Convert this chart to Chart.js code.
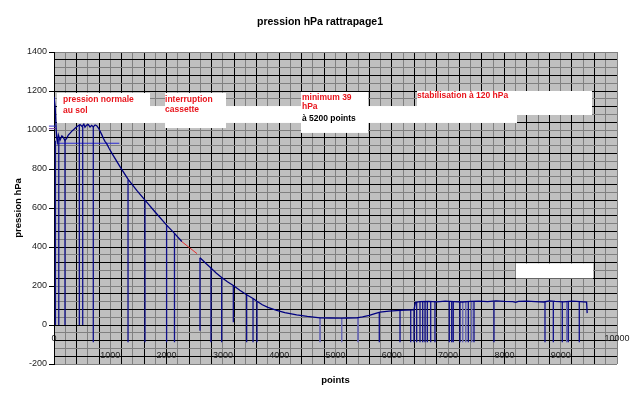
<!DOCTYPE html>
<html>
<head>
<meta charset="utf-8">
<script src="https://cdn.jsdelivr.net/npm/chart.js@4.4.1/dist/chart.umd.min.js"></script>
<style>
  html, body { margin: 0; padding: 0; background: #fff; }
  #wrap { width: 640px; height: 398px; }
</style>
</head>
<body>
<div id="wrap"><canvas id="chart" width="640" height="398"></canvas></div>
<script>
// pressure curve (points / hPa)
const descentX = [0, 20, 45, 60, 77, 107, 140, 166, 195, 230, 254, 290, 314, 360, 403, 430, 462, 500, 530, 550, 580, 610, 640, 670, 698, 730, 758, 790, 817, 850, 876, 905, 935, 980, 1040, 1180, 1320, 1470, 1616, 1800, 2000, 2140, 2270];
const descentY = [1170, 1120, 965, 940, 975, 948, 970, 962, 946, 960, 974, 985, 993, 1005, 1017, 1022, 1028, 1018, 1030, 1014, 1025, 1028, 1015, 1024, 1016, 1026, 1022, 1010, 995, 975, 958, 942, 930, 905, 875, 808, 745, 690, 640, 578, 512, 470, 428];

const recoveryX = [2593, 2700, 2788, 2880, 2978, 3080, 3185, 3300, 3422, 3535, 3605, 3700, 3800, 3955, 4100, 4310, 4500, 4725, 4900, 5100, 5200, 5375, 5480, 5600, 5700, 5790, 5950, 6145, 6250, 6394, 6420, 6500, 6650, 6800, 6950, 7100, 7250, 7400, 7550, 7700, 7850, 8000, 8150, 8200, 8250, 8400, 8550, 8700, 8800, 8900, 9050, 9200, 9350, 9460, 9470];
const recoveryY = [345, 315, 292, 267, 244, 222, 203, 178, 155, 136, 122, 104, 90, 75, 64, 52, 44, 37, 36, 35, 36, 37, 42, 49, 58, 66, 71, 75, 76, 78, 116, 120, 121, 119, 122, 120, 118, 121, 122, 120, 124, 121, 120, 116, 121, 122, 120, 118, 124, 121, 119, 122, 120, 117, 61];

// red piece across the cassette interruption
const trendX = [2250, 2540];
const trendY = [432, 366];

// dropouts: vertical strokes from the curve down
const spikeX =   [25, 85, 195, 450, 510, 698, 1315, 1616, 2000, 2140, 2593, 2788, 2978, 3185, 3422, 3535, 3605, 5778, 6146, 6336, 6394, 6442, 6501, 6549, 6590, 6631, 6691, 6767, 7021, 7064, 7092, 7211, 7359, 7460, 7815, 8721, 8869, 9028, 9135, 9330];
const spikeTop = [945, 955, 946, 1026, 1018, 1016, 745, 640, 512, 470, 345, 292, 244, 203, 155, 136, 122, 66, 75, 77, 78, 118, 120, 120, 120, 120, 120, 120, 120, 120, 120, 120, 120, 120, 121, 118, 121, 119, 121, 120];
const spikeLow = [0, 0, 0, 0, 0, -88, -88, -88, -88, -88, -30, -88, -88, 14, -88, -88, -88, -88, -88, -88, -88, -88, -88, -88, -88, -88, -88, -88, -88, -88, -88, -88, -88, -88, -88, -88, -88, -88, -88, -88];

const faintX =   [4725, 5110, 5400, 7259, 7313, 7419, 9107];
const faintTop = [37, 35, 38, 118, 121, 121, 121];
const faintLow = [-88, -88, -88, -88, -88, -88, -88];

// stray horizontal strokes near the ground level
const levelX = [48, 1160];
const levelY = [932, 932];
const markX = [-90, 40];
const markY = [1020, 1007];

// axes
const yMin = -200, yMax = 1400, yStep = 40;
const xMin = 0, xMax = 10000, xStep = 200;
const xTickLabels = [1000, 2000, 3000, 4000, 5000, 6000, 7000, 8000, 9000];
const xEdgeLabels = [0, 10000];
const yTickLabels = [-200, 0, 200, 400, 600, 800, 1000, 1200, 1400];

// white note boxes (data units) and their texts
const notes = [
  { x0: 53, x1: 8224, y0: 1123, y1: 1036, lines: [] },
  { x0: 53, x1: 1705, y0: 1190, y1: 1036, lines: [
    { t: 'pression normale', c: '#e8141c', dx: 6, dy: 7 },
    { t: 'au sol', c: '#e8141c', dx: 6, dy: 18 } ] },
  { x0: 1972, x1: 3055, y0: 1190, y1: 1010, lines: [
    { t: 'interruption', c: '#e8141c', dx: 0, dy: 6.5 },
    { t: 'cassette', c: '#e8141c', dx: 0, dy: 16.5 } ] },
  { x0: 4387, x1: 5577, y0: 1195, y1: 985, lines: [
    { t: 'minimum 39', c: '#e8141c', dx: 1, dy: 5.5 },
    { t: 'hPa', c: '#e8141c', dx: 1, dy: 15 },
    { t: 'à 5200 points', c: '#000', dx: 1, dy: 27 } ] },
  { x0: 6448, x1: 9556, y0: 1200, y1: 1077, lines: [
    { t: 'stabilisation à 120 hPa', c: '#e8141c', dx: 0, dy: 5 } ] },
  { x0: 8206, x1: 9574, y0: 316, y1: 239, lines: [] }
];

function xy(xs, ys) {
  return xs.map((x, i) => ({ x: x, y: ys[i] }));
}
function strokes(xs, tops, lows) {
  const pts = [];
  xs.forEach((x, i) => {
    pts.push({ x: x, y: tops[i] }, { x: x, y: lows[i] }, { x: x, y: null });
  });
  return pts;
}

const paperPlugin = {
  id: 'paper',
  beforeDraw(chart) {
    const { ctx, chartArea: a } = chart;
    ctx.save();
    ctx.fillStyle = '#c0c0c0';
    ctx.fillRect(a.left, a.top, a.right - a.left, a.bottom - a.top);
    ctx.restore();
  },
  beforeDatasetsDraw(chart) {
    const { ctx, scales } = chart;
    const x = scales.x, y = scales.y;
    ctx.save();
    ctx.fillStyle = '#fff';
    notes.forEach(n => {
      const l = x.getPixelForValue(n.x0), r = x.getPixelForValue(n.x1);
      const t = y.getPixelForValue(n.y0), b = y.getPixelForValue(n.y1);
      ctx.fillRect(l, t, r - l, b - t);
    });
    ctx.font = 'bold 8.5px Arial';
    ctx.textBaseline = 'middle';
    ctx.textAlign = 'left';
    notes.forEach(n => {
      const l = x.getPixelForValue(n.x0), t = y.getPixelForValue(n.y0);
      n.lines.forEach(ln => {
        ctx.fillStyle = ln.c;
        ctx.fillText(ln.t, l + ln.dx, t + ln.dy);
      });
    });
    ctx.restore();
  }
};

const lineBase = { pointRadius: 0, tension: 0, spanGaps: false, fill: false };

new Chart(document.getElementById('chart'), {
  type: 'line',
  data: {
    datasets: [
      Object.assign({ data: xy(descentX, descentY), borderColor: '#000080', borderWidth: 1.3 }, lineBase),
      Object.assign({ data: xy(recoveryX, recoveryY), borderColor: '#000080', borderWidth: 1.3 }, lineBase),
      Object.assign({ data: xy(trendX, trendY), borderColor: '#e83030', borderWidth: 1 }, lineBase),
      Object.assign({ data: strokes(spikeX, spikeTop, spikeLow), borderColor: '#10108a', borderWidth: 1.3 }, lineBase),
      Object.assign({ data: strokes(faintX, faintTop, faintLow), borderColor: '#6a6ab4', borderWidth: 1 }, lineBase),
      Object.assign({ data: xy(levelX, levelY), borderColor: '#2a2ad0', borderWidth: 1.2 }, lineBase),
      Object.assign({ data: xy(markX, [markY[0], markY[0]]), borderColor: '#3030c8', borderWidth: 1, clip: false }, lineBase),
      Object.assign({ data: xy(markX, [markY[1], markY[1]]), borderColor: '#8040a0', borderWidth: 1, clip: false }, lineBase)
    ]
  },
  options: {
    responsive: false,
    devicePixelRatio: 1,
    animation: false,
    events: [],
    layout: { padding: { left: 0, right: 0, top: 0, bottom: 12 } },
    plugins: {
      legend: { display: false },
      tooltip: { enabled: false },
      title: {
        display: true,
        text: 'pression hPa rattrapage1',
        color: '#000',
        font: { family: 'Arial', size: 10.5, weight: 'bold' },
        padding: { top: 15.7, bottom: 23.7 }
      }
    },
    scales: {
      x: {
        type: 'linear',
        min: xMin, max: xMax,
        position: { y: -120 },
        border: { display: false },
        grid: {
          drawTicks: false,
          lineWidth: 1,
          color: c => {
            const v = Math.round(c.tick.value);
            return (v % 400 === 0 && v !== xMax) ? '#000' : '#808080';
          }
        },
        ticks: {
          stepSize: xStep, maxTicksLimit: 100, autoSkip: false, maxRotation: 0,
          padding: 2, color: '#222',
          font: { family: 'Arial', size: 9 },
          callback: v => xTickLabels.includes(Math.round(v)) ? String(Math.round(v)) : ''
        }
      },
      x2: {
        type: 'linear',
        axis: 'x',
        min: xMin, max: xMax,
        position: { y: -33 },
        border: { display: false },
        grid: { display: false, drawTicks: false },
        afterBuildTicks: s => { s.ticks = xEdgeLabels.map(v => ({ value: v })); },
        ticks: {
          autoSkip: false, maxRotation: 0, padding: 2, color: '#222',
          font: { family: 'Arial', size: 9 },
          callback: v => String(v)
        }
      },
      xt: {
        type: 'linear',
        axis: 'x',
        min: xMin, max: xMax,
        position: 'bottom',
        border: { display: false },
        grid: { display: false, drawTicks: false },
        ticks: { display: false },
        title: {
          display: true, text: 'points', color: '#000',
          font: { family: 'Arial', size: 9.5, weight: 'bold' },
          padding: { top: 10.6, bottom: 0 }
        }
      },
      y: {
        type: 'linear',
        min: yMin, max: yMax,
        position: 'left',
        afterFit: s => { s.width = 54; },
        border: { display: true, color: '#000', width: 1 },
        grid: {
          drawTicks: true,
          tickLength: 5,
          lineWidth: 1,
          color: c => (Math.round(c.tick.value) % 80 === 0 ? '#000' : '#808080'),
          tickColor: c => (yTickLabels.includes(Math.round(c.tick.value)) ? '#000' : 'rgba(0,0,0,0)')
        },
        ticks: {
          stepSize: yStep, maxTicksLimit: 100, autoSkip: false,
          padding: 2, color: '#222',
          font: { family: 'Arial', size: 9 },
          callback: v => yTickLabels.includes(Math.round(v)) ? String(Math.round(v)) : ''
        },
        title: {
          display: true, text: 'pression hPa', color: '#000',
          font: { family: 'Arial', size: 9.5, weight: 'bold' },
          padding: { top: 13, bottom: 0 }
        }
      },
      // empty right margin so the title centres on the full width
      yr: {
        type: 'linear',
        axis: 'y',
        min: yMin, max: yMax,
        position: 'right',
        afterFit: s => { s.width = 23; },
        border: { display: false },
        grid: { display: false, drawTicks: false },
        ticks: { display: false }
      }
    }
  },
  plugins: [paperPlugin]
});
</script>
</body>
</html>
